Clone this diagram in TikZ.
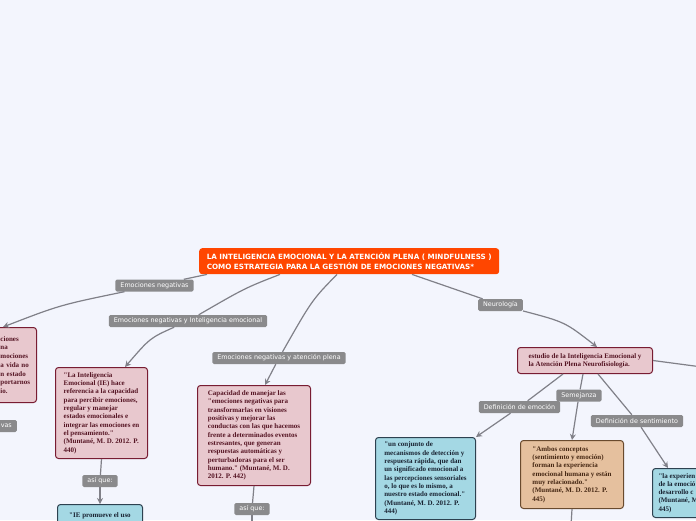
\documentclass[tikz,border=0pt]{standalone}
\usepackage{fontspec}
\usepackage{xcolor}
\usetikzlibrary{arrows.meta}
\newfontfamily\quotefont{Liberation Serif}
\newfontfamily\tagfont{DejaVu Sans}
\definecolor{mapbg}{RGB}{243,245,253}
\definecolor{rootred}{RGB}{255,70,0}
\definecolor{pinkfill}{RGB}{232,200,206}
\definecolor{pinkline}{RGB}{120,28,50}
\definecolor{pinktext}{RGB}{85,20,35}
\definecolor{bluefill}{RGB}{164,216,228}
\definecolor{blueline}{RGB}{45,65,80}
\definecolor{bluetext}{RGB}{25,35,50}
\definecolor{tanfill}{RGB}{229,192,158}
\definecolor{tanline}{RGB}{105,74,46}
\definecolor{tantext}{RGB}{70,40,20}
\definecolor{taggray}{RGB}{138,138,140}
\definecolor{linkgray}{RGB}{128,128,136}
\newcommand{\offedge}{\hspace*{21pt}}

\begin{document}
\begin{tikzpicture}[
    x=1pt, y=-1pt,
    box/.style={rectangle,rounded corners=3pt,line width=1pt,anchor=north west,
      align=left,inner xsep=6pt,font=\quotefont\bfseries\fontsize{7}{8.3}\selectfont},
    pinkbox/.style={box,draw=pinkline,fill=pinkfill,text=pinktext},
    bluebox/.style={box,draw=blueline,fill=bluefill,text=bluetext},
    tanbox/.style={box,draw=tanline,fill=tanfill,text=tantext},
    tag/.style={rectangle,rounded corners=1.5pt,fill=taggray,text=white,
      inner xsep=5pt,inner ysep=0pt,minimum height=12pt,
      font=\tagfont\fontsize{6.4}{7}\selectfont},
    link/.style={draw=linkgray,line width=1.2pt},
    arrow/.style={link,-{Stealth[length=6pt,width=6pt]}}
  ]
    \fill[mapbg] (0,0) rectangle (696,520);
    \useasboundingbox (0,0) rectangle (696,520);
    \clip (0,0) rectangle (696,520);

    % central topic
    \node[rectangle,rounded corners=3pt,fill=rootred,text=white,anchor=north west,
      minimum width=300pt,minimum height=26pt,align=left,
      font=\tagfont\bfseries\fontsize{7.2}{9.4}\selectfont] (root) at (199,248)
      {LA INTELIGENCIA EMOCIONAL Y LA ATENCIÓN PLENA ( MINDFULNESS )\\
       COMO ESTRATEGIA PARA LA GESTIÓN DE EMOCIONES NEGATIVAS*};

    % quote boxes
    \node[pinkbox,anchor=north east,inner xsep=2pt,text width=55pt,minimum height=75pt,
      font=\quotefont\bfseries\fontsize{7}{8.7}\selectfont] (left) at (37,327)
      {\offedge ciones\\\offedge na\\\offedge mociones\\\offedge a vida no\\
       \offedge n estado\\\offedge portarnos\\\offedge io.};
    \node[pinkbox,minimum width=92pt,minimum height=91pt] (ieq) at (55,367)
      {"La Inteligencia\\Emocional (IE) hace\\referencia a la capacidad\\
       para percibir emociones,\\regular y manejar\\estados emocionales e\\
       integrar las emociones en\\el pensamiento."\\(Muntané, M. D. 2012. P.\\440)};
    \node[pinkbox,minimum width=113pt,minimum height=100pt] (calm) at (197,385)
      {Capacidad de manejar las\\"emociones negativas para\\transformarlas en visiones\\
       positivas y mejorar las\\conductas con las que hacemos\\frente a determinados eventos\\
       estresantes, que generan\\respuestas automáticas y\\perturbadoras para el ser\\
       humano." (Muntané, M. D.\\2012. P. 442)};
    \node[pinkbox,minimum width=135pt,minimum height=26pt] (neuro) at (517,347)
      {estudio de la Inteligencia Emocional y\\la Atención Plena Neurofisiología.};
    \node[bluebox,minimum width=100pt,minimum height=82pt] (emoq) at (375,437)
      {"un conjunto de\\mecanismos de detección y\\respuesta rápida, que dan\\
       un significado emocional a\\las percepciones sensoriales\\o, lo que es lo mismo, a\\
       nuestro estado emocional."\\(Muntané, M. D. 2012. P.\\444)};
    \node[tanbox,minimum width=103pt,minimum height=68pt] (alikeq) at (520,440)
      {"Ambos conceptos\\(sentimiento y emoción)\\forman la experiencia\\
       emocional humana y están\\muy relacionado."\\(Muntané, M. D. 2012. P.\\445)};
    \node[bluebox,minimum height=49pt] (feelq) at (652,468)
      {"la experien\\de la emoció\\desarrollo c\\(Muntané, M\\445)};
    \node[bluebox,minimum width=85pt,inner ysep=8pt] (ieuse) at (57,504)
      {"IE promueve el uso};

    % connector labels
    \node[tag] (tagneg) at (154.5,285.5) {Emociones negativas};
    \node[tag] (tagie) at (188,321) {Emociones negativas y Inteligencia emocional};
    \node[tag] (tagplena) at (279,358) {Emociones negativas y atención plena};
    \node[tag] (tagneuro) at (500.5,305) {Neurología};
    \node[tag,anchor=east] (tagvas) at (17,426) {vas};
    \node[tag] (tagasi) at (100,481) {así que:};
    \node[tag] (tagasib) at (252,509) {así que:};
    \node[tag] (tagemo) at (519.5,407) {Definición de emoción};
    \node[tag] (tagalike) at (579,395.5) {Semejanza};
    \node[tag] (tagfeel) at (637,421) {Definición de sentimiento};

    \coordinate (offright) at (702,367);
    \coordinate (offcalm) at (252,526);
    \coordinate (offalike) at (571,526);

    % connectors
    \draw[link] ([xshift=8pt]root.south west) -- (tagneg);
    \draw[arrow] (tagneg) .. controls (60,305) .. ([xshift=-34pt]left.north east);
    \draw[link] ([xshift=81pt]root.south west) .. controls (245,288) .. (tagie);
    \draw[arrow] (tagie) .. controls (150,338) .. ([xshift=70pt]ieq.north west);
    \draw[link] ([xshift=138pt]root.south west) .. controls (312,300) .. (tagplena);
    \draw[arrow] (tagplena) -- ([xshift=68pt]calm.north west);
    \draw[link] ([xshift=213pt]root.south west) -- (tagneuro);
    \draw[arrow] (tagneuro) .. controls (565,322) .. ([xshift=80pt]neuro.north west);
    \draw[link] (neuro.east) -- (offright);
    \draw[link] ([xshift=46pt]neuro.south west) -- (tagemo);
    \draw[arrow] (tagemo) -- (emoq.north east);
    \draw[link] ([xshift=66pt]neuro.south west) -- (tagalike);
    \draw[arrow] (tagalike) -- (alikeq.north);
    \draw[link] ([xshift=81pt]neuro.south west) -- (tagfeel);
    \draw[arrow] (tagfeel) -- ([xshift=16pt]feelq.north west);
    \draw[link] (ieq.south) -- (tagasi);
    \draw[arrow] (tagasi) -- (ieuse.north);
    \draw[link] (calm.south) -- (tagasib);
    \draw[link] (tagasib) -- (offcalm);
    \draw[link] (alikeq.south) -- (offalike);
  \end{tikzpicture}
\end{document}
